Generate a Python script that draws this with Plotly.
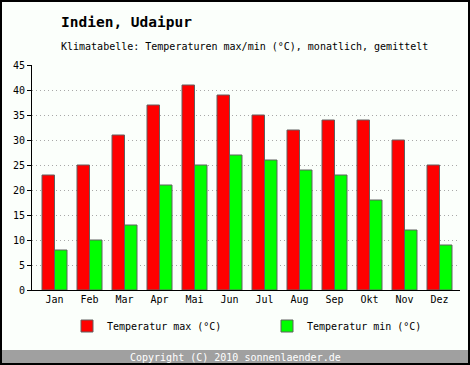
import plotly.graph_objects as go

months = ["Jan", "Feb", "Mar", "Apr", "Mai", "Jun", "Jul", "Aug", "Sep", "Okt", "Nov", "Dez"]
temp_max = [23, 25, 31, 37, 41, 39, 35, 32, 34, 34, 30, 25]
temp_min = [8, 10, 13, 21, 25, 27, 26, 24, 23, 18, 12, 9]
y_ticks = [0, 5, 10, 15, 20, 25, 30, 35, 40, 45]

W, H = 470, 365
L, R, T, B = 32, 10, 65, 75
PW, PH = W - L - R, H - T - B

def px(x):
    return (x - L) / PW

def py(y):
    return (H - B - y) / PH

FONT = "DejaVu Sans Mono"
BG = "#FBFFFB"

fig = go.Figure()
fig.add_bar(x=months, y=temp_max, name="Temperatur max (°C)",
            marker=dict(color="#FF0000", line=dict(color="#606060", width=1)))
fig.add_bar(x=months, y=temp_min, name="Temperatur min (°C)",
            marker=dict(color="#00FF00", line=dict(color="#606060", width=1)))

fig.update_layout(
    width=W, height=H,
    margin=dict(l=L, r=R, t=T, b=B, autoexpand=False),
    paper_bgcolor=BG, plot_bgcolor=BG,
    font=dict(family=FONT, size=10, color="#000000"),
    barmode="group", bargap=0.286, bargroupgap=0,
    showlegend=True,
    legend=dict(orientation="h", xref="container", yref="container",
                x=67 / W, y=1 - 326 / H, xanchor="left", yanchor="middle",
                entrywidth=155, entrywidthmode="pixels", itemwidth=30,
                font=dict(family=FONT, size=10), bgcolor="rgba(0,0,0,0)"),
    xaxis=dict(range=[-0.643, 11.586], showline=True, linecolor="#000000", linewidth=1, ticks="",
               showgrid=False, tickfont=dict(family=FONT, size=10), fixedrange=True),
    yaxis=dict(range=[0, 45], tickvals=y_ticks, showline=True, linecolor="#000000", linewidth=1,
               ticks="outside", ticklen=4, tickcolor="#000000",
               showgrid=True, gridcolor="#A8A8A8", griddash="1px,3px", gridwidth=1,
               zeroline=False, tickfont=dict(family=FONT, size=10), fixedrange=True),
    shapes=[
        dict(type="rect", xref="paper", yref="paper",
             x0=px(1), x1=px(W - 1), y0=py(H - 2), y1=py(350),
             fillcolor="#A0A0A0", line=dict(width=0), layer="above"),
        dict(type="rect", xref="paper", yref="paper",
             x0=px(1), x1=px(W - 1), y0=py(H - 1), y1=py(1),
             fillcolor="rgba(0,0,0,0)", line=dict(color="#000000", width=2), layer="above"),
    ],
    annotations=[
        dict(text="<b>Indien, Udaipur</b>", xref="paper", yref="paper",
             x=px(59), y=py(22), xanchor="left", yanchor="middle", showarrow=False,
             font=dict(family=FONT, size=14.5)),
        dict(text="Klimatabelle: Temperaturen max/min (°C), monatlich, gemittelt",
             xref="paper", yref="paper", x=px(59), y=py(47), xanchor="left", yanchor="middle",
             showarrow=False, font=dict(family=FONT, size=10)),
        dict(text="Copyright (C) 2010 sonnenlaender.de", xref="paper", yref="paper",
             x=px(235), y=py(357), xanchor="center", yanchor="middle", showarrow=False,
             font=dict(family=FONT, size=10, color="#FFFFFF")),
    ],
)

fig.write_html("out.html", config={"displayModeBar": False},
               post_script="document.body.style.margin='0';")
